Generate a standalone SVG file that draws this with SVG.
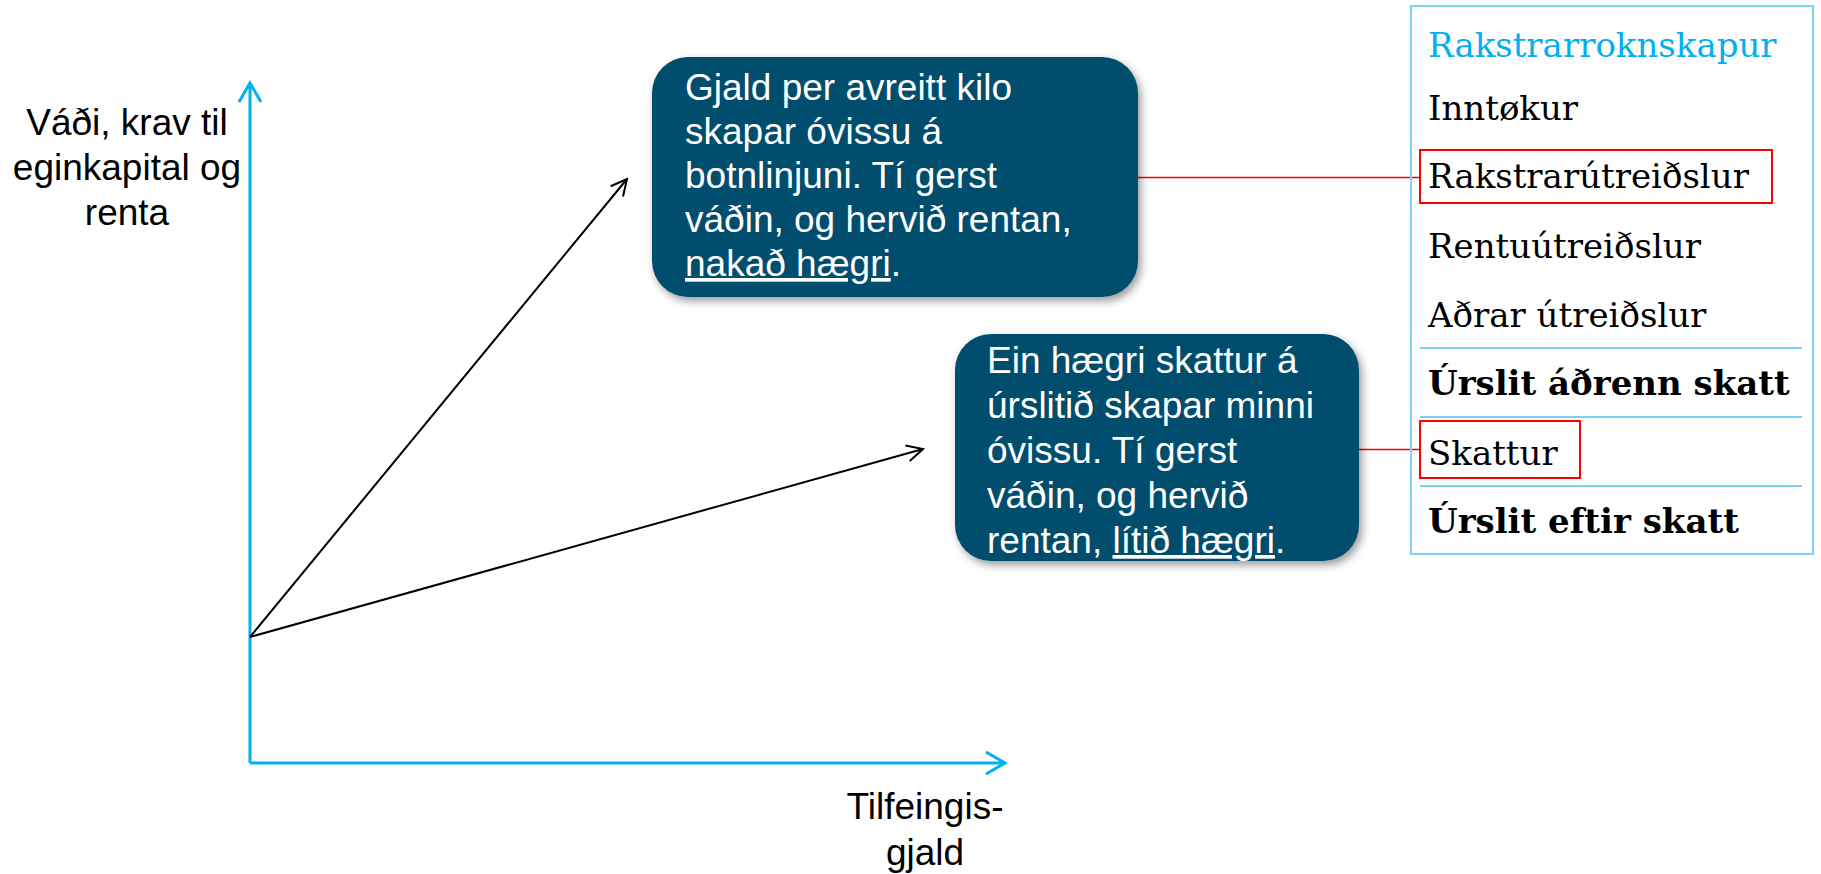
<svg xmlns="http://www.w3.org/2000/svg" width="1821" height="874" viewBox="0 0 1821 874">
<defs>
<style>
.lbl{font-family:"Liberation Sans",Arial,sans-serif;font-size:37px;fill:#000}
.btxt{font-family:"Liberation Sans",Arial,sans-serif;font-size:37px;fill:#fff}
.box{fill:#024E6D;filter:url(#sh)}
.axis{stroke:#00B0F0;stroke-width:3;fill:none}
.arr{stroke:#000;stroke-width:2;fill:none}
.red{stroke:#FF0000;stroke-width:1.5;fill:none}
.redbox{stroke:#FF0000;stroke-width:2;fill:none}
.ser{font-family:"DejaVu Serif","Liberation Serif",serif;font-size:34px;fill:#000}
.serb{font-family:"DejaVu Serif","Liberation Serif",serif;font-size:34px;font-weight:bold;fill:#000}
.sep{stroke:#4CC3EE;stroke-width:1.5}
</style>
<filter id="sh" x="-10%" y="-10%" width="120%" height="130%">
<feDropShadow dx="3" dy="4" stdDeviation="4" flood-color="#000" flood-opacity="0.4"/>
</filter>
<marker id="oa" viewBox="0 0 20 20" refX="18" refY="10" markerWidth="20" markerHeight="20" markerUnits="userSpaceOnUse" orient="auto">
<path d="M2,2 L18,10 L2,18" stroke="#000" stroke-width="2" fill="none"/>
</marker>
</defs>
<rect width="1821" height="874" fill="#fff"/>

<g id="axes">
<path class="axis" d="M250,763 V83"/>
<path class="axis" d="M239,102 L250,83 L261,102"/>
<path class="axis" d="M250,763 H1005"/>
<path class="axis" d="M986,752 L1005,763 L986,774"/>
</g>

<g id="connectors">
<line class="arr" x1="250" y1="637" x2="627" y2="179" marker-end="url(#oa)"/>
<line class="arr" x1="250" y1="637" x2="923" y2="449" marker-end="url(#oa)"/>
<line class="red" x1="1138" y1="177.5" x2="1420" y2="177.5"/>
<line class="red" x1="1359" y1="449.5" x2="1420" y2="449.5"/>
</g>

<g id="ylabel">
<text class="lbl" text-anchor="middle"><tspan x="127" y="135">Váði, krav til</tspan><tspan x="127" y="180">eginkapital og</tspan><tspan x="127" y="225">renta</tspan></text>
</g>

<g id="xlabel">
<text class="lbl" text-anchor="middle"><tspan x="925" y="819">Tilfeingis-</tspan><tspan x="925" y="865">gjald</tspan></text>
</g>

<g id="box1">
<rect class="box" x="652" y="57" width="486" height="240" rx="36"/>
<text class="btxt"><tspan x="685" y="100">Gjald per avreitt kilo</tspan><tspan x="685" y="144">skapar óvissu á</tspan><tspan x="685" y="188">botnlinjuni. Tí gerst</tspan><tspan x="685" y="232">váðin, og hervið rentan,</tspan><tspan x="685" y="276"><tspan text-decoration="underline">nakað hægri</tspan>.</tspan></text>
</g>

<g id="box2">
<rect class="box" x="955" y="334" width="404" height="227" rx="36"/>
<text class="btxt"><tspan x="987" y="373">Ein hægri skattur á</tspan><tspan x="987" y="418">úrslitið skapar minni</tspan><tspan x="987" y="463">óvissu. Tí gerst</tspan><tspan x="987" y="508">váðin, og hervið</tspan><tspan x="987" y="553">rentan, <tspan text-decoration="underline">lítið hægri</tspan>.</tspan></text>
</g>

<g id="panel">
<rect x="1411" y="6" width="402" height="548" fill="none" stroke="#7FD3F7" stroke-width="2"/>
<text class="ser" x="1428" y="57" style="fill:#00B0F0">Rakstrarroknskapur</text>
<text class="ser" x="1428" y="120">Inntøkur</text>
<text class="ser" x="1428" y="188">Rakstrarútreiðslur</text>
<rect class="redbox" x="1420" y="150" width="352" height="53"/>
<text class="ser" x="1428" y="258">Rentuútreiðslur</text>
<text class="ser" x="1428" y="327">Aðrar útreiðslur</text>
<line class="sep" x1="1420" y1="348" x2="1802" y2="348"/>
<text class="serb" x="1428" y="395">Úrslit áðrenn skatt</text>
<line class="sep" x1="1420" y1="417" x2="1802" y2="417"/>
<text class="ser" x="1428" y="465">Skattur</text>
<rect class="redbox" x="1420" y="421" width="160" height="57"/>
<line class="sep" x1="1420" y1="486" x2="1802" y2="486"/>
<text class="serb" x="1428" y="533">Úrslit eftir skatt</text>
</g>
</svg>
